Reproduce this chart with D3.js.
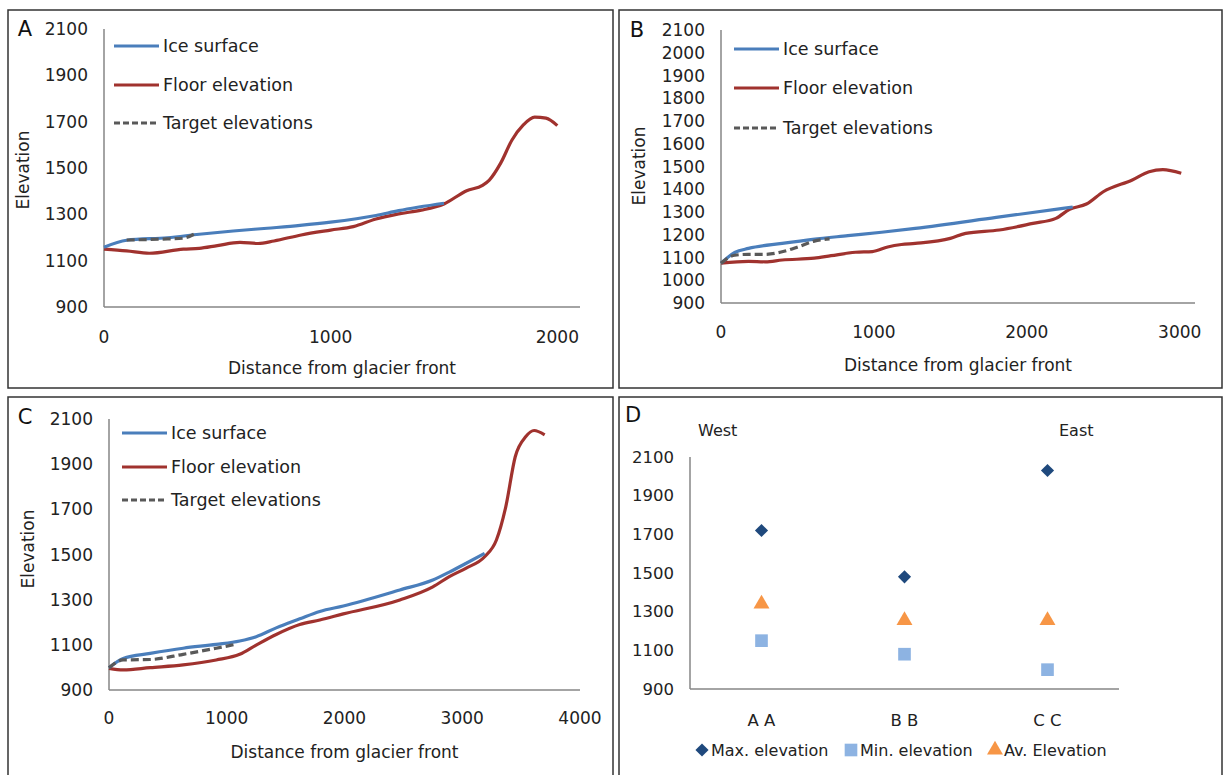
<!DOCTYPE html>
<html>
<head>
<meta charset="utf-8">
<script src="https://cdn.jsdelivr.net/npm/d3@7"></script>
<style>
    body { margin: 0; background: #fff; }
    svg { display: block; font-family: "DejaVu Sans", Verdana, sans-serif; }
</style>
</head>
<body>
<div id="chart"></div>
<script>
// profile A (distance, elevation)
const aIce = [[0,1158],[100,1188],[280,1199],[420,1214],[570,1228],[720,1240],[865,1252],[1000,1266],[1200,1295],[1300,1316],[1500,1348]];
const aFloor = [[0,1150],[100,1142],[200,1132],[350,1150],[420,1153],[500,1165],[600,1179],[680,1174],[750,1185],[870,1211],[1000,1232],[1100,1247],[1200,1280],[1300,1302],[1400,1318],[1500,1345],[1600,1402],[1670,1425],[1700,1448],[1750,1521],[1800,1621],[1850,1686],[1900,1720],[1950,1715],[2000,1683]];
const aTarget = [[100,1189],[280,1194],[350,1197],[400,1216]];

// profile B
const bIce = [[0,1075],[90,1122],[180,1140],[400,1162],[600,1180],[830,1196],[1050,1211],[1270,1228],[1800,1276],[2300,1322]];
const bFloor = [[0,1075],[180,1083],[290,1081],[400,1089],[610,1097],[720,1108],[880,1123],[990,1126],[1090,1146],[1180,1157],[1270,1162],[1500,1184],[1600,1206],[1820,1221],[2040,1250],[2190,1272],[2280,1312],[2390,1335],[2500,1389],[2690,1441],[2800,1477],[2890,1486],[3010,1470]];
const bTarget = [[0,1075],[90,1110],[180,1114],[290,1114],[400,1125],[505,1147],[610,1172],[710,1182]];

// profile C
const cIce = [[0,999],[120,1040],[350,1062],[630,1085],[910,1102],[1110,1117],[1250,1136],[1420,1175],[1620,1215],[1790,1248],[1990,1272],[2470,1343],[2750,1387],[2890,1422],[3030,1460],[3190,1505]];
const cFloor = [[0,996],[120,989],[350,999],[630,1011],[910,1033],[1110,1058],[1250,1099],[1420,1146],[1620,1190],[1790,1210],[1990,1237],[2470,1299],[2750,1357],[2890,1402],[3030,1439],[3190,1490],[3290,1564],[3370,1712],[3450,1933],[3540,2022],[3610,2049],[3700,2030]];
const cTarget = [[0,999],[120,1033],[350,1035],[630,1058],[910,1085],[1080,1103]];

// panel D summary
const sections = ["A A", "B B", "C C"];
const maxElev = [1720, 1480, 2030];
const minElev = [1150, 1080, 1000];
const avElev = [1340, 1255, 1255];

const seriesNames = ["Ice surface", "Floor elevation", "Target elevations"];
const colors = {ice: "#4a7ebb", floor: "#a0322e", target: "#595959", axis: "#868686",
    max: "#1f497d", min: "#8db3e2", av: "#f79646"};

const svg = d3.select("#chart").append("svg")
    .attr("width", 1225)
    .attr("height", 775);

// panel frames
[[8,10,605,378],[619,10,603,378],[8,397,605,390],[619,397,603,390]].forEach(r => {
    svg.append("rect")
        .attr("x", r[0]).attr("y", r[1])
        .attr("width", r[2]).attr("height", r[3])
        .attr("fill", "none")
        .attr("stroke", "#333")
        .attr("stroke-width", 1.5);
});

const panels = [
    {letter: "A", lx: 25, ly: 29, x0: 104, x1: 580, xMax: 2100, xTicks: [0,1000,2000],
     yTop: 29, yBot: 307, yTicks: d3.range(900, 2101, 200), tickY: 337, titleY: 368,
     ylabX: 23, ylabY: 170, legX: 114, legY: [46, 85, 123],
     ice: aIce, floor: aFloor, target: aTarget},
    {letter: "B", lx: 637, ly: 30, x0: 721, x1: 1195, xMax: 3100, xTicks: [0,1000,2000,3000],
     yTop: 30, yBot: 303, yTicks: d3.range(900, 2101, 100), tickY: 332, titleY: 365,
     ylabX: 639, ylabY: 166, legX: 734, legY: [49, 88, 128],
     ice: bIce, floor: bFloor, target: bTarget},
    {letter: "C", lx: 25, ly: 417, x0: 109, x1: 580, xMax: 4000, xTicks: [0,1000,2000,3000,4000],
     yTop: 419, yBot: 690, yTicks: d3.range(900, 2101, 200), tickY: 718, titleY: 752,
     ylabX: 28, ylabY: 549, legX: 122, legY: [433, 467, 500],
     ice: cIce, floor: cFloor, target: cTarget}
];

panels.forEach(p => drawProfile(p));
drawSummary();

function drawProfile(p) {
    let g = svg.append("g");

    let x = d3.scaleLinear().domain([0, p.xMax]).range([p.x0, p.x1]);
    let y = d3.scaleLinear().domain([900, 2100]).range([p.yBot, p.yTop]);

    g.append("text")
        .attr("x", p.lx).attr("y", p.ly)
        .attr("text-anchor", "middle")
        .attr("dominant-baseline", "central")
        .attr("font-size", 21)
        .attr("fill", "#111")
        .text(p.letter);

    // axes lines
    g.append("line")
        .attr("x1", p.x0).attr("x2", p.x0)
        .attr("y1", p.yTop).attr("y2", p.yBot)
        .attr("stroke", colors.axis).attr("stroke-width", 1.5);
    g.append("line")
        .attr("x1", p.x0).attr("x2", p.x1)
        .attr("y1", p.yBot).attr("y2", p.yBot)
        .attr("stroke", colors.axis).attr("stroke-width", 1.5);

    g.selectAll(".ytick")
        .data(p.yTicks)
        .join("text")
        .attr("x", p.x0 - 16)
        .attr("y", d => y(d))
        .attr("text-anchor", "end")
        .attr("dominant-baseline", "central")
        .attr("font-size", 17)
        .attr("fill", "#222")
        .text(d => d);

    g.selectAll(".xtick")
        .data(p.xTicks)
        .join("text")
        .attr("x", d => x(d))
        .attr("y", p.tickY)
        .attr("text-anchor", "middle")
        .attr("dominant-baseline", "central")
        .attr("font-size", 17)
        .attr("fill", "#222")
        .text(d => d);

    g.append("text")
        .attr("x", (p.x0 + p.x1) / 2)
        .attr("y", p.titleY)
        .attr("text-anchor", "middle")
        .attr("dominant-baseline", "central")
        .attr("font-size", 17)
        .attr("fill", "#222")
        .text("Distance from glacier front");

    g.append("text")
        .attr("transform", `translate(${p.ylabX}, ${p.ylabY}) rotate(-90)`)
        .attr("text-anchor", "middle")
        .attr("dominant-baseline", "central")
        .attr("font-size", 17)
        .attr("fill", "#222")
        .text("Elevation");

    let line = d3.line()
        .x(d => x(d[0]))
        .y(d => y(d[1]))
        .curve(d3.curveMonotoneX);

    g.append("path").datum(p.floor)
        .attr("d", line).attr("fill", "none")
        .attr("stroke", colors.floor).attr("stroke-width", 3.2);
    g.append("path").datum(p.ice)
        .attr("d", line).attr("fill", "none")
        .attr("stroke", colors.ice).attr("stroke-width", 3.2);
    g.append("path").datum(p.target)
        .attr("d", line).attr("fill", "none")
        .attr("stroke", colors.target).attr("stroke-width", 3.2)
        .attr("stroke-dasharray", "8,4");

    // legend
    let legColors = [colors.ice, colors.floor, colors.target];
    seriesNames.forEach((name, i) => {
        g.append("line")
            .attr("x1", p.legX).attr("x2", p.legX + 45)
            .attr("y1", p.legY[i]).attr("y2", p.legY[i])
            .attr("stroke", legColors[i]).attr("stroke-width", 3)
            .attr("stroke-dasharray", i === 2 ? "6,3" : null);
        g.append("text")
            .attr("x", p.legX + 49)
            .attr("y", p.legY[i])
            .attr("dominant-baseline", "central")
            .attr("font-size", 17.5)
            .attr("fill", "#222")
            .text(name);
    });
}

function drawSummary() {
    let g = svg.append("g");
    let x0 = 690, x1 = 1119, yTop = 457, yBot = 689;

    let x = d3.scaleBand().domain(sections).range([x0, x1]);
    let y = d3.scaleLinear().domain([900, 2100]).range([yBot, yTop]);

    g.append("text")
        .attr("x", 625).attr("y", 415)
        .attr("dominant-baseline", "central")
        .attr("font-size", 21).attr("fill", "#111")
        .text("D");
    g.append("text")
        .attr("x", 698).attr("y", 430)
        .attr("dominant-baseline", "central")
        .attr("font-size", 16).attr("fill", "#222")
        .text("West");
    g.append("text")
        .attr("x", 1059).attr("y", 430)
        .attr("dominant-baseline", "central")
        .attr("font-size", 16).attr("fill", "#222")
        .text("East");

    g.append("line")
        .attr("x1", x0).attr("x2", x0).attr("y1", yTop).attr("y2", yBot)
        .attr("stroke", colors.axis).attr("stroke-width", 1.5);
    g.append("line")
        .attr("x1", x0).attr("x2", x1).attr("y1", yBot).attr("y2", yBot)
        .attr("stroke", colors.axis).attr("stroke-width", 1.5);

    g.selectAll(".ytick")
        .data(d3.range(900, 2101, 200))
        .join("text")
        .attr("x", x0 - 16)
        .attr("y", d => y(d))
        .attr("text-anchor", "end")
        .attr("dominant-baseline", "central")
        .attr("font-size", 16.5).attr("fill", "#222")
        .text(d => d);

    g.selectAll(".xtick")
        .data(sections)
        .join("text")
        .attr("x", d => x(d) + x.bandwidth() / 2)
        .attr("y", 720)
        .attr("text-anchor", "middle")
        .attr("dominant-baseline", "central")
        .attr("font-size", 16.5).attr("fill", "#222")
        .text(d => d);

    let markers = [
        {vals: maxElev, sym: d3.symbolDiamond2, size: 110, color: colors.max, label: "Max. elevation", mx: 702},
        {vals: minElev, sym: d3.symbolSquare, size: 160, color: colors.min, label: "Min. elevation", mx: 851},
        {vals: avElev, sym: d3.symbolTriangle, size: 110, color: colors.av, label: "Av. Elevation", mx: 995}
    ];

    markers.forEach(m => {
        g.selectAll(null)
            .data(m.vals)
            .join("path")
            .attr("transform", (d, i) => `translate(${x(sections[i]) + x.bandwidth() / 2}, ${y(d)})`)
            .attr("d", d3.symbol().type(m.sym).size(m.size))
            .attr("fill", m.color);

        g.append("path")
            .attr("transform", `translate(${m.mx}, 750)`)
            .attr("d", d3.symbol().type(m.sym).size(m.size))
            .attr("fill", m.color);
        g.append("text")
            .attr("x", m.mx + 9)
            .attr("y", 750)
            .attr("dominant-baseline", "central")
            .attr("font-size", 16).attr("fill", "#222")
            .text(m.label);
    });
}
</script>
</body>
</html>
